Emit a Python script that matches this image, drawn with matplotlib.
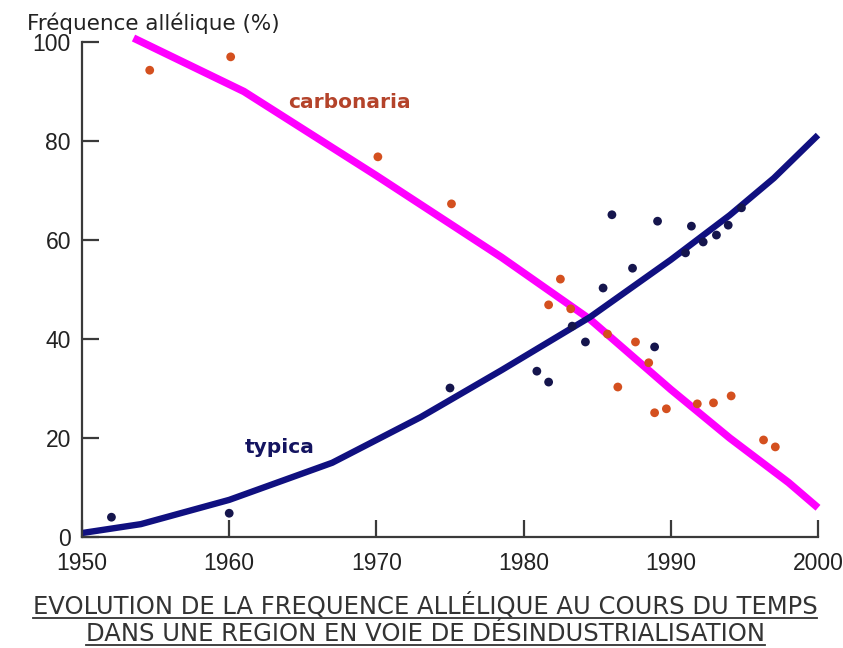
import matplotlib
matplotlib.use("Agg")
import matplotlib.pyplot as plt
from matplotlib.lines import Line2D

# ---- data ----
carbonaria_years = [1954.6, 1960.1, 1970.1, 1975.1, 1981.7, 1982.5, 1983.2, 1985.7, 1986.4,
                    1987.6, 1988.5, 1988.9, 1989.7, 1991.8, 1992.9, 1994.1, 1996.3, 1997.1]
carbonaria_values = [94.3, 97.0, 76.8, 67.3, 46.9, 52.1, 46.1, 41.0, 30.3,
                     39.4, 35.2, 25.1, 25.9, 26.9, 27.1, 28.5, 19.6, 18.2]

typica_years = [1952.0, 1960.0, 1975.0, 1980.9, 1981.7, 1983.3, 1984.2, 1985.4, 1986.0,
                1987.4, 1988.9, 1989.1, 1991.0, 1991.4, 1992.2, 1993.1, 1993.9, 1994.8]
typica_values = [4.0, 4.8, 30.1, 33.5, 31.3, 42.6, 39.4, 50.3, 65.1,
                 54.3, 38.4, 63.8, 57.4, 62.8, 59.6, 61.0, 63.0, 66.5]

carb_trend_years = [1953.5, 1961, 1970, 1978.5, 1984.5, 1990, 1994, 1998, 2000]
carb_trend_values = [100.8, 90, 73, 56.5, 44, 29.8, 20, 11, 5.9]

typ_trend_years = [1950, 1954, 1960, 1967, 1973, 1978.5, 1984.5, 1990, 1994, 1997, 2000]
typ_trend_values = [0.8, 2.6, 7.5, 15, 24.2, 33.7, 44.4, 56, 65, 72.5, 81.2]

x_ticks = [1950, 1960, 1970, 1980, 1990, 2000]
y_ticks = [0, 20, 40, 60, 80, 100]

W, H = 843, 648
fig = plt.figure(figsize=(W / 100, H / 100), dpi=100)
fig.patch.set_facecolor("white")
ax = fig.add_axes([82 / W, 1 - 537 / H, (818 - 82) / W, (537 - 42) / H])

tick_font = ["Liberation Sans", "DejaVu Sans"]
axis_col = "#3a3a3a"

ax.plot(carb_trend_years, carb_trend_values, color="#ff00ff", lw=5.4,
        solid_capstyle="butt", solid_joinstyle="round", clip_on=False, zorder=2)
ax.plot(typ_trend_years, typ_trend_values, color="#101080", lw=4.6,
        solid_capstyle="butt", solid_joinstyle="round", clip_on=False, zorder=2)
ax.scatter(carbonaria_years, carbonaria_values, s=40, color="#d4501f",
           edgecolors="none", zorder=3, clip_on=False)
ax.scatter(typica_years, typica_values, s=40, color="#15154d",
           edgecolors="none", zorder=3, clip_on=False)

ax.set_xlim(1950, 2000)
ax.set_ylim(0, 100)
for s in ["top", "right"]:
    ax.spines[s].set_visible(False)
for s in ["left", "bottom"]:
    ax.spines[s].set_color(axis_col)
    ax.spines[s].set_linewidth(1.6)
ax.set_xticks(x_ticks)
ax.set_yticks(y_ticks)
ax.set_xticklabels([str(v) for v in x_ticks], family=tick_font, fontsize=16.5, color="#222222")
ax.set_yticklabels([str(v) for v in y_ticks], family=tick_font, fontsize=16.5, color="#222222")
ax.tick_params(axis="both", direction="in", length=12, width=1.6, color=axis_col)
ax.tick_params(axis="x", pad=11)
ax.tick_params(axis="y", pad=8)

ax.text(1968.2, 87.7, "carbonaria", color="#b4432a", fontsize=14.5, fontweight="bold",
        ha="center", va="center", family="DejaVu Sans")
ax.text(1963.45, 18.0, "typica", color="#141460", fontsize=14.5, fontweight="bold",
        ha="center", va="center", family="DejaVu Sans")

fig.text(27 / W, 1 - 23 / H, "Fréquence allélique (%)", fontsize=15.5, color="#222222",
         ha="left", va="center", family="DejaVu Sans")

title_lines = ["EVOLUTION DE LA FREQUENCE ALLÉLIQUE AU COURS DU TEMPS",
               "DANS UNE REGION EN VOIE DE DÉSINDUSTRIALISATION"]
title_y = [606, 634]
texts = []
for line, yy in zip(title_lines, title_y):
    t = fig.text(425 / W, 1 - yy / H, line, fontsize=17.5, color="#333333",
                 ha="center", va="center", family="DejaVu Sans")
    texts.append(t)

fig.canvas.draw()
r = fig.canvas.get_renderer()
for t in texts:
    bb = t.get_window_extent(renderer=r)
    yline = (bb.y0 + 1) / H
    fig.add_artist(Line2D([bb.x0 / W, bb.x1 / W], [yline, yline],
                          transform=fig.transFigure, color="#333333", lw=1.3))

fig.savefig("out.png", dpi=100, facecolor="white")
